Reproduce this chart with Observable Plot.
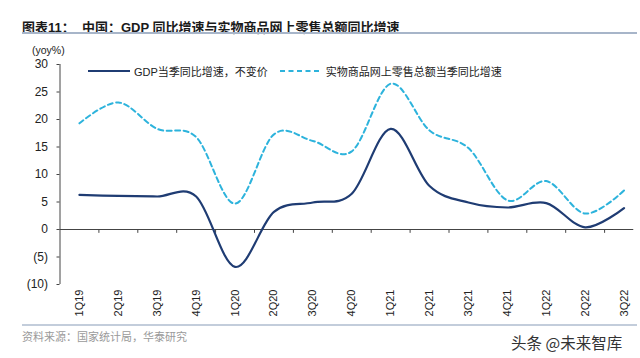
<!DOCTYPE html>
<html>
<head>
<meta charset="utf-8">
<script src="https://cdn.jsdelivr.net/npm/d3@7"></script>
<script src="https://cdn.jsdelivr.net/npm/@observablehq/plot@0.6"></script>
<style>
  html, body { margin: 0; padding: 0; background: #fff; }
  #wrap { position: relative; width: 640px; height: 358px; overflow: hidden; font-family: "Liberation Sans", Arial, "Noto Sans CJK SC", sans-serif; }
  .abs { position: absolute; white-space: nowrap; }
  #title { left: 22px; top: 17px; font-size: 13px; font-weight: bold; color: #1a1a1a; font-family: "Liberation Sans", Arial, "Noto Sans CJK SC", sans-serif; }
  #chart { position: absolute; left: 0; top: 36px; }
  .legend { font-size: 11px; color: #222; font-family: "Liberation Sans", Arial, "Noto Sans CJK SC", sans-serif; }
</style>
</head>
<body>
<div id="wrap">
  <div id="title" class="abs">图表11：&nbsp;&nbsp;中国：GDP 同比增速与实物商品网上零售总额同比增速</div>
  <div class="abs" style="left:22px;top:32px;width:615px;height:2px;background:#a7b5c9;"></div>
  <div class="abs" style="left:32px;top:44px;font-size:10.5px;color:#222;">(yoy%)</div>
  <div id="chart"></div>
  <div class="abs legend" style="left:88px;top:63px;display:flex;align-items:center;">
    <svg width="42" height="8"><line x1="0" y1="4" x2="42" y2="4" stroke="#1f3c73" stroke-width="2"/></svg>
    <span style="margin-left:4px;">GDP当季同比增速，不变价</span>
    <svg width="40" height="8" style="margin-left:12px;"><line x1="0" y1="4" x2="40" y2="4" stroke="#2db3dc" stroke-width="2" stroke-dasharray="5,3.5"/></svg>
    <span style="margin-left:6px;">实物商品网上零售总额当季同比增速</span>
  </div>
  <div class="abs" style="left:22px;top:324px;width:615px;height:2px;background:#c3cddb;"></div>
  <div class="abs" style="left:22px;top:328px;font-size:11px;color:#9a9a9a;font-family:'Noto Sans CJK SC',sans-serif;">资料来源：国家统计局，华泰研究</div>
  <div class="abs" style="left:511px;top:331px;font-size:15.5px;color:#333;font-family:'Noto Sans CJK SC',sans-serif;">头条 @未来智库</div>
</div>
<script>
const quarters = ["1Q19","2Q19","3Q19","4Q19","1Q20","2Q20","3Q20","4Q20","1Q21","2Q21","3Q21","4Q21","1Q22","2Q22","3Q22"];
const gdp = [6.3, 6.1, 6.0, 6.0, -6.8, 3.2, 4.9, 6.5, 18.3, 7.9, 4.9, 4.0, 4.8, 0.4, 3.9];
const online = [19.3, 23.1, 18.3, 16.8, 4.7, 17.3, 16.1, 14.2, 26.5, 18.0, 14.8, 5.3, 8.8, 2.9, 7.1];
const yTicks = [-10, -5, 0, 5, 10, 15, 20, 25, 30];

const rows = quarters.map((q, i) => ({i, q, gdp: gdp[i], online: online[i]}));
const bounds = d3.range(0.5, quarters.length - 0.5, 1);

const chart = Plot.plot({
  width: 640,
  height: 290,
  marginTop: 28,
  marginBottom: 42,
  marginLeft: 59.5,
  marginRight: 0,
  style: {fontFamily: "Liberation Sans, Arial, sans-serif", fontSize: "12px", color: "#222", background: "transparent", overflow: "visible"},
  x: {type: "linear", domain: [-0.5, quarters.length - 0.5], range: [59.5, 643]},
  y: {domain: [-10, 30]},
  marks: [
    Plot.ruleX([-0.5], {y1: -10, y2: 30, stroke: "#444", strokeWidth: 1}),
    Plot.ruleY([0], {x1: -0.5, x2: 14.25, stroke: "#444", strokeWidth: 1}),
    Plot.ruleX(bounds, {y1: 0, y2: -0.7, stroke: "#444", strokeWidth: 1}),
    Plot.axisY({ticks: yTicks, tickFormat: d => d < 0 ? `(${-d})` : `${d}`, tickSize: 3, tickPadding: 9, label: null, fontSize: 12, stroke: "#444"}),
    Plot.axisX(d3.range(quarters.length), {tickFormat: i => quarters[i], tickRotate: -90, tickSize: 0, tickPadding: 5, label: null, fontSize: 11}),
    Plot.line(rows, {x: "i", y: "online", curve: "cardinal", stroke: "#2db3dc", strokeWidth: 2, strokeDasharray: "5,3.5"}),
    Plot.line(rows, {x: "i", y: "gdp", curve: "cardinal", stroke: "#1f3c73", strokeWidth: 2.2})
  ]
});
document.getElementById("chart").appendChild(chart);
</script>
</body>
</html>
